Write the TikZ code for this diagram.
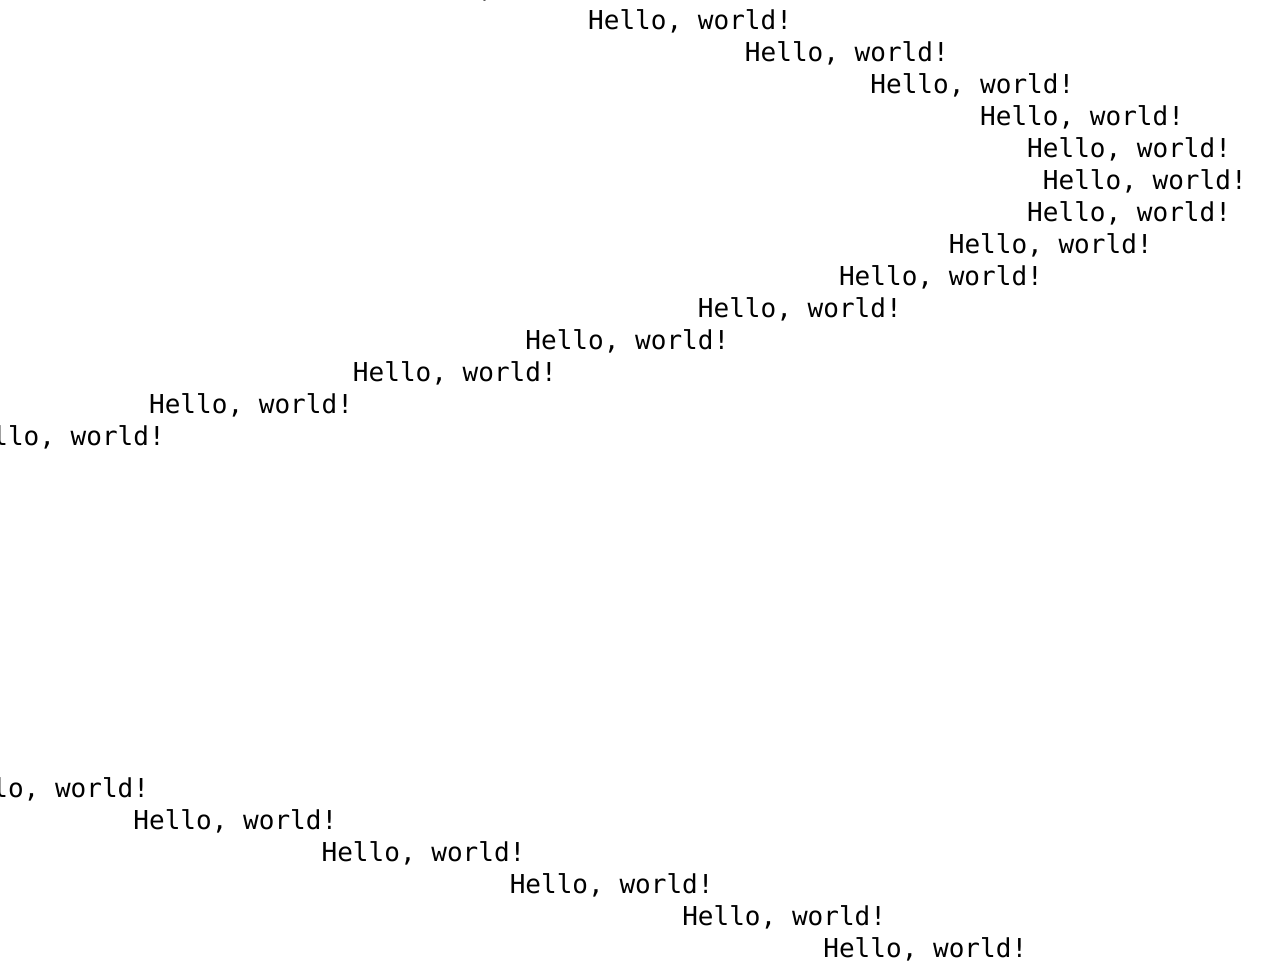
\documentclass[tikz,border=0pt]{standalone}
\usepackage{fontspec}
\setmonofont{DejaVu Sans Mono}

\begin{document}
\begin{tikzpicture}[
        x=1pt, y=1pt,
        every node/.style={anchor=base west, inner sep=0pt,
            font=\ttfamily\fontsize{13.02pt}{16pt}\selectfont},
    ]
    \useasboundingbox (0,0) rectangle (640,-481);
    \clip (0,0) rectangle (640,-481);
    % line number / spaces in front of the greeting
    \foreach \i/\n in {-1/41, 0/29, 1/19, 2/11, 3/4, 4/1, 5/0, 6/1, 7/6,
            8/13, 9/22, 10/33, 11/44, 12/57, 13/69,
            24/70, 25/58, 26/46, 27/34, 28/23, 29/14}
        \node (hello\i) at ({521.25-7.84*\n}, {-14.75-16.0*\i}) {Hello, world!};
\end{tikzpicture}
\end{document}
